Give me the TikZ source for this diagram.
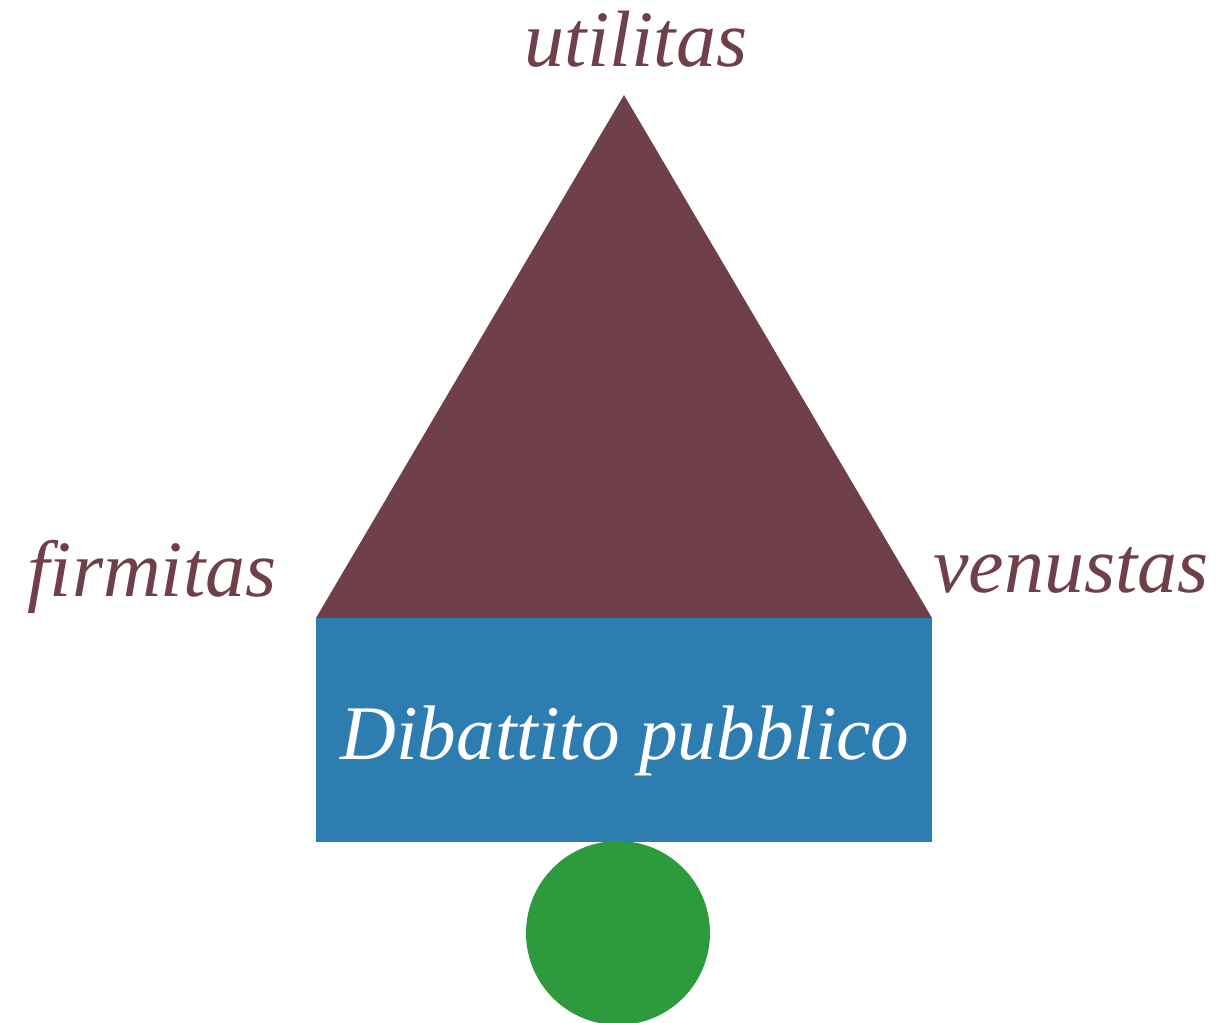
\documentclass[tikz,border=0pt]{standalone}
\usepackage{fontspec}
\setmainfont{Liberation Serif}
\usetikzlibrary{positioning}
\definecolor{vinaccia}{HTML}{6F3F4A}
\definecolor{azzurro}{HTML}{2E7DB0}
\definecolor{verde}{HTML}{2E9A3E}
\tikzstyle{parola}=[font=\fontsize{45.5}{50}\selectfont\itshape, text=vinaccia, anchor=base, inner sep=0pt]
\tikzstyle{blocco}=[rectangle, fill=azzurro, minimum width=12.32cm, minimum height=4.5cm, inner sep=0pt]
\tikzstyle{palla}=[circle, fill=verde, minimum size=3.68cm, inner sep=0pt]

\begin{document}
\begin{tikzpicture}[x=0.02cm, y=-0.02cm]
   \useasboundingbox (0,0) rectangle (1216,1023);

   % il triangolo
   \coordinate (cima) at (624,95);
   \coordinate (sinistra) at (316,618);
   \coordinate (destra) at (932,618);
   \fill[vinaccia] (cima) -- (sinistra) -- (destra) -- cycle;

   % base e sostegno
   \node[blocco] (dibattito) at (624,730) {};
   \node[palla] (sostegno) at (618,933) {};

   \node[parola] (utilitas) at (636,67) {utilitas};
   \node[parola] (firmitas) at (152,596) {firmitas};
   \node[parola] (venustas) at (1071,592) {venustas};
   \node[parola, text=white, font=\fontsize{44}{50}\selectfont\itshape] (testo) at (625,759) {Dibattito pubblico};

\end{tikzpicture}
\end{document}
